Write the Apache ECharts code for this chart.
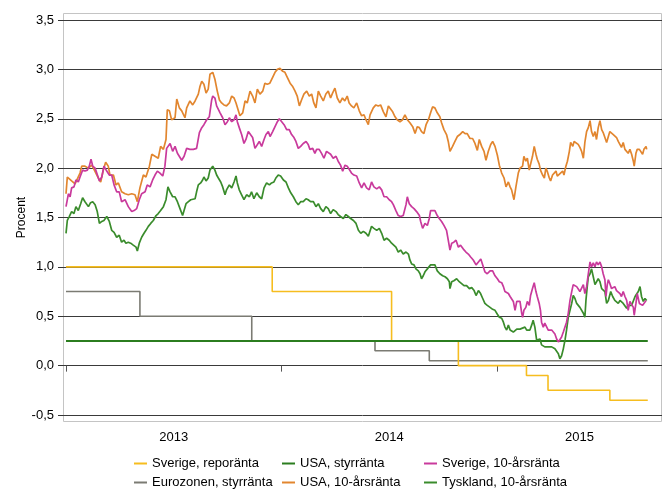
<!DOCTYPE html>
<html>
<head>
<meta charset="utf-8">
<script src="https://cdn.jsdelivr.net/npm/echarts@6/dist/echarts.min.js"></script>
<style>
html, body { margin: 0; padding: 0; background: #fff; }
#main { width: 667px; height: 490px; }
</style>
</head>
<body>
<div id="main"></div>
<script>
// time is given as decimal year (2013.5 = mid 2013)
var yearTicks = [2013, 2014, 2015];
var yearLabelAt = [2013.5, 2014.5, 2015.383];

// policy rates, value holds until next date
var repoDatum = [2013.0, 2013.957, 2014.511, 2014.821, 2015.137, 2015.237, 2015.524, 2015.70];
var repoRanta = [1.00, 0.75, 0.25, 0.00, -0.10, -0.25, -0.35, -0.35];
var ecbDatum = [2013.0, 2013.343, 2013.862, 2014.434, 2014.686, 2015.70];
var ecbRanta = [0.75, 0.50, 0.25, 0.15, 0.05, 0.05];
var fedDatum = [2013.0, 2015.70];
var fedRanta = [0.25, 0.25];

// 10-year yields [time, percent]
var usa10 = [[2013.000,1.74],[2013.006,1.91],[2013.015,1.90],[2013.026,1.87],[2013.042,1.84],[2013.049,1.83],[2013.065,1.95],[2013.073,2.02],[2013.088,2.02],[2013.104,2.00],[2013.119,2.03],[2013.127,2.00],[2013.135,2.02],[2013.150,1.90],[2013.161,1.86],[2013.173,1.98],[2013.184,2.06],[2013.196,2.02],[2013.204,1.93],[2013.220,1.93],[2013.232,1.83],[2013.243,1.85],[2013.258,1.76],[2013.274,1.74],[2013.289,1.73],[2013.305,1.74],[2013.320,1.73],[2013.331,1.66],[2013.343,1.80],[2013.359,1.93],[2013.371,1.91],[2013.387,2.02],[2013.398,2.14],[2013.413,2.12],[2013.428,2.10],[2013.439,2.22],[2013.452,2.19],[2013.464,2.29],[2013.470,2.59],[2013.480,2.58],[2013.490,2.49],[2013.506,2.51],[2013.514,2.70],[2013.526,2.61],[2013.537,2.58],[2013.552,2.51],[2013.560,2.61],[2013.575,2.68],[2013.588,2.64],[2013.599,2.68],[2013.614,2.75],[2013.622,2.83],[2013.630,2.88],[2013.640,2.85],[2013.650,2.76],[2013.660,2.80],
[2013.668,2.95],[2013.681,2.97],[2013.691,2.90],[2013.702,2.78],[2013.712,2.69],[2013.722,2.66],[2013.733,2.64],[2013.745,2.63],[2013.758,2.66],[2013.769,2.73],[2013.780,2.71],[2013.789,2.66],[2013.800,2.58],[2013.807,2.53],[2013.820,2.56],[2013.831,2.68],[2013.841,2.66],[2013.854,2.78],[2013.866,2.73],[2013.877,2.66],[2013.888,2.80],[2013.900,2.75],[2013.913,2.78],[2013.923,2.86],[2013.934,2.85],[2013.946,2.86],[2013.959,2.92],[2013.970,2.97],[2013.981,3.00],[2013.993,3.01],[2014.006,2.98],[2014.016,2.97],[2014.027,2.92],[2014.040,2.86],[2014.051,2.83],[2014.063,2.78],[2014.073,2.73],[2014.083,2.63],[2014.093,2.69],[2014.104,2.75],[2014.117,2.78],[2014.129,2.73],[2014.140,2.75],[2014.150,2.66],[2014.160,2.61],[2014.171,2.78],[2014.182,2.73],[2014.194,2.68],[2014.206,2.75],[2014.217,2.78],[2014.228,2.71],[2014.237,2.76],[2014.248,2.81],[2014.259,2.71],[2014.271,2.66],[2014.283,2.71],[2014.294,2.68],[2014.305,2.73],[2014.314,2.66],[2014.325,2.63],[2014.336,2.61],[2014.349,2.66],[2014.361,2.58],[2014.372,2.53],[2014.383,2.54],[2014.392,2.49],[2014.403,2.44],[2014.411,2.54],
[2014.426,2.61],[2014.438,2.64],[2014.449,2.63],[2014.460,2.64],[2014.473,2.57],[2014.485,2.52],[2014.496,2.63],[2014.503,2.64],[2014.516,2.57],[2014.527,2.52],[2014.537,2.49],[2014.550,2.47],[2014.562,2.49],[2014.573,2.54],[2014.584,2.49],[2014.596,2.46],[2014.609,2.42],[2014.620,2.35],[2014.630,2.42],[2014.640,2.41],[2014.650,2.37],[2014.661,2.35],[2014.671,2.44],[2014.682,2.49],[2014.692,2.56],[2014.701,2.62],[2014.712,2.61],[2014.723,2.56],[2014.735,2.52],[2014.743,2.46],[2014.754,2.39],[2014.766,2.34],[2014.774,2.27],[2014.782,2.17],[2014.794,2.22],[2014.805,2.27],[2014.816,2.32],[2014.828,2.34],[2014.841,2.37],[2014.852,2.35],[2014.862,2.35],[2014.875,2.30],[2014.887,2.30],[2014.898,2.25],[2014.909,2.18],[2014.918,2.29],[2014.929,2.22],[2014.940,2.17],[2014.949,2.08],[2014.960,2.17],[2014.971,2.24],[2014.980,2.27],[2014.991,2.22],[2015.002,2.13],[2015.011,2.03],[2015.022,1.95],[2015.033,1.90],[2015.042,1.81],[2015.053,1.86],[2015.061,1.81],[2015.068,1.78],[2015.079,1.68],[2015.088,1.81],[2015.099,1.95],[2015.107,2.00],
[2015.119,2.02],[2015.125,2.12],[2015.134,2.07],[2015.141,2.10],[2015.150,1.98],[2015.156,2.04],[2015.165,2.12],[2015.173,2.22],[2015.181,2.14],[2015.187,2.09],[2015.196,2.04],[2015.202,1.98],[2015.212,1.93],[2015.220,1.90],[2015.227,2.00],[2015.233,1.97],[2015.243,1.90],[2015.249,1.87],[2015.258,1.93],[2015.264,1.92],[2015.274,1.97],[2015.280,1.92],[2015.289,1.90],[2015.295,1.95],[2015.305,1.97],[2015.311,1.93],[2015.320,2.02],[2015.327,2.07],[2015.336,2.17],[2015.342,2.26],[2015.352,2.22],[2015.358,2.27],[2015.366,2.26],[2015.377,2.24],[2015.385,2.21],[2015.393,2.17],[2015.401,2.10],[2015.408,2.26],[2015.416,2.37],[2015.424,2.41],[2015.432,2.48],[2015.439,2.37],[2015.447,2.32],[2015.455,2.37],[2015.462,2.29],[2015.470,2.41],[2015.478,2.48],[2015.486,2.39],[2015.493,2.36],[2015.501,2.34],[2015.509,2.26],[2015.517,2.32],[2015.524,2.37],[2015.532,2.36],[2015.540,2.34],[2015.547,2.32],[2015.555,2.31],[2015.563,2.27],[2015.571,2.26],[2015.578,2.21],[2015.586,2.26],[2015.594,2.19],[2015.602,2.21],[2015.609,2.15],[2015.617,2.19],[2015.625,2.14],[2015.633,2.07],[2015.637,2.02],[2015.645,2.15],[2015.651,2.19],[2015.661,2.19],[2015.667,2.17],[2015.676,2.14],[2015.682,2.19],[2015.692,2.22],[2015.695,2.19]];

var sverige10 = [[2013.000,1.61],[2013.011,1.74],[2013.019,1.71],[2013.026,1.80],[2013.037,1.81],[2013.046,1.88],[2013.057,1.86],[2013.065,1.91],[2013.077,1.98],[2013.088,1.97],[2013.099,1.98],[2013.108,2.02],[2013.116,2.09],[2013.124,2.02],[2013.135,2.00],[2013.142,1.98],[2013.155,1.87],[2013.166,1.91],[2013.176,2.02],[2013.189,1.97],[2013.201,1.93],[2013.212,1.93],[2013.223,1.83],[2013.235,1.76],[2013.247,1.76],[2013.258,1.66],[2013.274,1.68],[2013.289,1.61],[2013.305,1.56],[2013.316,1.57],[2013.328,1.59],[2013.340,1.68],[2013.351,1.74],[2013.367,1.76],[2013.377,1.83],[2013.390,1.81],[2013.402,1.88],[2013.413,1.93],[2013.424,1.97],[2013.436,1.95],[2013.449,1.92],[2013.459,2.02],[2013.467,2.20],[2013.476,2.19],[2013.483,2.25],[2013.495,2.17],[2013.506,2.22],[2013.517,2.15],[2013.526,2.13],[2013.537,2.08],[2013.548,2.12],[2013.560,2.20],[2013.575,2.19],[2013.591,2.19],[2013.606,2.20],[2013.619,2.36],[2013.630,2.41],[2013.640,2.44],[2013.653,2.49],[2013.665,2.52],[2013.676,2.69],
[2013.681,2.73],[2013.691,2.71],[2013.699,2.63],[2013.707,2.64],[2013.715,2.56],[2013.727,2.51],[2013.738,2.44],[2013.749,2.47],[2013.758,2.51],[2013.769,2.47],[2013.780,2.49],[2013.789,2.54],[2013.795,2.47],[2013.804,2.41],[2013.815,2.34],[2013.826,2.25],[2013.835,2.29],[2013.846,2.37],[2013.854,2.39],[2013.866,2.31],[2013.877,2.20],[2013.885,2.20],[2013.897,2.27],[2013.908,2.22],[2013.919,2.29],[2013.928,2.34],[2013.939,2.37],[2013.947,2.32],[2013.959,2.37],[2013.970,2.42],[2013.981,2.47],[2013.990,2.50],[2014.001,2.47],[2014.012,2.44],[2014.024,2.39],[2014.036,2.39],[2014.047,2.34],[2014.058,2.31],[2014.067,2.27],[2014.078,2.20],[2014.089,2.22],[2014.101,2.25],[2014.114,2.27],[2014.124,2.24],[2014.132,2.19],[2014.145,2.20],[2014.155,2.15],[2014.163,2.19],[2014.175,2.19],[2014.186,2.15],[2014.197,2.10],[2014.209,2.17],[2014.217,2.19],[2014.228,2.14],[2014.240,2.10],[2014.253,2.12],[2014.263,2.07],[2014.274,2.03],[2014.284,1.97],[2014.295,2.03],[2014.305,2.02],[2014.314,2.00],[2014.325,1.95],[2014.336,1.93],[2014.349,1.92],[2014.361,1.85],[2014.372,1.80],[2014.383,1.85],[2014.395,1.80],[2014.407,1.78],
[2014.418,1.86],[2014.429,1.81],[2014.442,1.79],[2014.454,1.81],[2014.465,1.78],[2014.476,1.71],[2014.488,1.71],[2014.500,1.68],[2014.511,1.66],[2014.519,1.63],[2014.531,1.57],[2014.542,1.52],[2014.553,1.51],[2014.565,1.52],[2014.578,1.63],[2014.584,1.71],[2014.593,1.64],[2014.604,1.61],[2014.615,1.59],[2014.627,1.56],[2014.640,1.52],[2014.646,1.46],[2014.655,1.39],[2014.666,1.44],[2014.677,1.42],[2014.686,1.49],[2014.692,1.57],[2014.701,1.59],[2014.712,1.57],[2014.723,1.52],[2014.732,1.49],[2014.743,1.46],[2014.754,1.42],[2014.766,1.37],[2014.774,1.27],[2014.782,1.17],[2014.790,1.24],[2014.800,1.25],[2014.810,1.27],[2014.821,1.20],[2014.831,1.22],[2014.844,1.18],[2014.856,1.15],[2014.867,1.13],[2014.878,1.10],[2014.890,1.07],[2014.903,1.02],[2014.914,1.05],[2014.925,1.08],[2014.934,1.02],[2014.944,0.95],[2014.955,0.93],[2014.968,0.96],[2014.980,0.96],[2014.991,0.91],[2015.002,0.88],[2015.011,0.85],
[2015.022,0.84],[2015.030,0.80],[2015.037,0.75],[2015.045,0.76],[2015.053,0.73],[2015.061,0.70],[2015.068,0.68],[2015.076,0.65],[2015.084,0.56],[2015.092,0.65],[2015.099,0.63],[2015.107,0.65],[2015.115,0.53],[2015.119,0.49],[2015.125,0.56],[2015.134,0.59],[2015.141,0.65],[2015.150,0.61],[2015.156,0.71],[2015.165,0.78],[2015.173,0.84],[2015.181,0.75],[2015.187,0.70],[2015.196,0.63],[2015.202,0.56],[2015.207,0.44],[2015.215,0.39],[2015.222,0.43],[2015.230,0.41],[2015.238,0.36],[2015.246,0.37],[2015.254,0.36],[2015.261,0.34],[2015.269,0.32],[2015.277,0.27],[2015.285,0.24],[2015.292,0.26],[2015.300,0.29],[2015.308,0.34],[2015.316,0.32],[2015.323,0.44],[2015.331,0.53],[2015.339,0.66],[2015.347,0.75],[2015.354,0.82],[2015.362,0.83],[2015.370,0.80],[2015.378,0.80],[2015.385,0.75],[2015.393,0.73],[2015.401,0.82],[2015.408,0.73],[2015.416,0.80],[2015.424,0.93],[2015.432,1.05],[2015.439,1.00],[2015.447,1.04],[2015.455,1.00],[2015.462,1.05],[2015.470,1.02],[2015.478,1.05],[2015.486,1.00],[2015.493,0.93],[2015.501,0.87],[2015.506,0.70],[2015.512,0.82],[2015.517,0.87],[2015.524,0.83],[2015.532,0.78],[2015.540,0.76],[2015.547,0.80],[2015.555,0.76],[2015.563,0.75],[2015.571,0.73],[2015.578,0.70],[2015.586,0.75],[2015.594,0.70],[2015.602,0.66],[2015.609,0.56],[2015.617,0.65],[2015.625,0.66],[2015.633,0.59],[2015.637,0.51],[2015.645,0.63],[2015.651,0.73],[2015.661,0.63],[2015.667,0.65],[2015.676,0.61],[2015.682,0.63],[2015.692,0.66]];

var tyskland10 = [[2013.000,1.34],[2013.006,1.47],[2013.015,1.51],[2013.026,1.56],[2013.037,1.54],[2013.046,1.61],[2013.057,1.57],[2013.068,1.64],[2013.077,1.70],[2013.088,1.66],[2013.104,1.61],[2013.114,1.65],[2013.124,1.66],[2013.135,1.63],[2013.145,1.56],[2013.155,1.44],[2013.166,1.46],[2013.176,1.47],[2013.189,1.51],[2013.201,1.46],[2013.212,1.37],[2013.223,1.35],[2013.235,1.30],[2013.247,1.32],[2013.258,1.25],[2013.269,1.27],[2013.278,1.24],[2013.289,1.25],[2013.300,1.24],[2013.312,1.22],[2013.325,1.20],[2013.331,1.16],[2013.340,1.24],[2013.351,1.30],[2013.362,1.34],[2013.371,1.37],[2013.382,1.41],[2013.393,1.44],[2013.405,1.47],[2013.418,1.52],[2013.428,1.54],[2013.439,1.57],[2013.452,1.61],[2013.464,1.68],[2013.473,1.81],[2013.483,1.76],[2013.495,1.71],[2013.506,1.71],[2013.517,1.66],[2013.529,1.59],[2013.541,1.52],[2013.548,1.51],[2013.557,1.64],[2013.568,1.66],[2013.579,1.68],[2013.588,1.68],[2013.599,1.69],[2013.606,1.76],[2013.614,1.83],[2013.625,1.85],[2013.634,1.88],[2013.640,1.91],[2013.650,1.87],[2013.660,1.90],
[2013.668,1.98],[2013.681,2.02],[2013.691,1.98],[2013.699,1.93],[2013.707,1.90],[2013.718,1.86],[2013.727,1.81],[2013.738,1.73],[2013.745,1.78],[2013.758,1.83],[2013.769,1.80],[2013.780,1.86],[2013.789,1.92],[2013.795,1.85],[2013.804,1.78],[2013.815,1.73],[2013.826,1.68],[2013.838,1.73],[2013.851,1.71],[2013.861,1.76],[2013.872,1.69],[2013.885,1.75],[2013.897,1.71],[2013.908,1.69],[2013.919,1.80],[2013.931,1.85],[2013.944,1.83],[2013.954,1.85],[2013.965,1.86],[2013.974,1.90],[2013.985,1.93],[2013.996,1.92],[2014.009,1.88],[2014.021,1.86],[2014.032,1.80],[2014.043,1.75],[2014.055,1.71],[2014.067,1.66],[2014.078,1.63],[2014.089,1.66],[2014.101,1.66],[2014.114,1.69],[2014.124,1.68],[2014.135,1.66],[2014.148,1.66],[2014.160,1.61],[2014.171,1.64],[2014.182,1.59],[2014.194,1.56],[2014.206,1.61],[2014.217,1.59],[2014.228,1.54],[2014.240,1.58],[2014.253,1.56],[2014.263,1.53],[2014.274,1.51],[2014.287,1.49],[2014.299,1.53],[2014.310,1.51],[2014.321,1.49],[2014.334,1.47],[2014.346,1.44],[2014.357,1.37],[2014.368,1.34],[2014.380,1.36],[2014.392,1.34],[2014.403,1.31],
[2014.418,1.41],[2014.429,1.39],[2014.442,1.37],[2014.454,1.39],[2014.465,1.34],[2014.476,1.27],[2014.488,1.29],[2014.500,1.27],[2014.511,1.24],[2014.519,1.22],[2014.531,1.20],[2014.542,1.15],[2014.553,1.17],[2014.565,1.13],[2014.578,1.15],[2014.589,1.13],[2014.596,1.07],[2014.604,1.03],[2014.615,1.02],[2014.624,0.98],[2014.635,0.96],[2014.643,0.93],[2014.650,0.88],[2014.658,0.91],[2014.666,0.95],[2014.677,0.98],[2014.686,0.96],[2014.692,1.02],[2014.701,1.03],[2014.712,1.02],[2014.723,0.96],[2014.735,0.93],[2014.748,0.91],[2014.759,0.90],[2014.770,0.88],[2014.779,0.85],[2014.782,0.78],[2014.790,0.85],[2014.800,0.86],[2014.813,0.88],[2014.825,0.85],[2014.836,0.83],[2014.847,0.81],[2014.859,0.81],[2014.872,0.78],[2014.883,0.79],[2014.894,0.76],[2014.903,0.71],[2014.914,0.76],[2014.924,0.73],[2014.934,0.68],[2014.944,0.63],[2014.955,0.61],[2014.968,0.59],[2014.980,0.57],[2014.991,0.56],[2015.002,0.52],[2015.011,0.49],
[2015.022,0.48],[2015.030,0.44],[2015.037,0.39],[2015.045,0.36],[2015.053,0.41],[2015.061,0.36],[2015.076,0.34],[2015.084,0.32],[2015.092,0.37],[2015.099,0.36],[2015.107,0.37],[2015.115,0.36],[2015.130,0.39],[2015.138,0.36],[2015.145,0.37],[2015.153,0.36],[2015.161,0.41],[2015.168,0.46],[2015.176,0.39],[2015.184,0.26],[2015.192,0.26],[2015.200,0.27],[2015.207,0.21],[2015.215,0.22],[2015.222,0.19],[2015.230,0.21],[2015.238,0.19],[2015.246,0.17],[2015.254,0.19],[2015.261,0.17],[2015.269,0.17],[2015.277,0.15],[2015.285,0.12],[2015.292,0.07],[2015.300,0.10],[2015.308,0.17],[2015.316,0.26],[2015.323,0.36],[2015.331,0.49],[2015.339,0.56],[2015.347,0.63],[2015.354,0.71],[2015.362,0.68],[2015.370,0.63],[2015.378,0.61],[2015.385,0.59],[2015.393,0.58],[2015.401,0.53],[2015.408,0.49],[2015.413,0.66],[2015.419,0.80],[2015.424,0.90],[2015.432,0.93],[2015.439,0.98],[2015.447,0.90],[2015.455,0.82],[2015.462,0.80],[2015.470,0.88],[2015.478,0.85],[2015.486,0.78],[2015.493,0.80],[2015.501,0.75],[2015.509,0.63],[2015.517,0.66],[2015.528,0.75],[2015.537,0.70],[2015.547,0.66],[2015.555,0.65],[2015.563,0.63],[2015.571,0.66],[2015.578,0.68],[2015.586,0.63],[2015.594,0.61],[2015.602,0.58],[2015.609,0.61],[2015.617,0.59],[2015.625,0.61],[2015.633,0.59],[2015.641,0.70],[2015.648,0.71],[2015.656,0.75],[2015.664,0.80],[2015.671,0.70],[2015.679,0.65],[2015.687,0.68],[2015.695,0.66]];

var FONT = '"Liberation Sans", Arial, sans-serif';

function zip(a, b) {
	var out = [];
	for (var i = 0; i < a.length; i++) {
		out.push([a[i], b[i]]);
	}
	return out;
}

function lineSeries(name, data, color, width, step) {
	return {
		name : name,
		type : 'line',
		data : data,
		step : step || false,
		showSymbol : false,
		symbol : 'none',
		silent : true,
		color : color,
		lineStyle : { width : width, color : color }
	};
}

function legendAt(name, left, top) {
	return {
		data : [name],
		left : left,
		top : top,
		padding : 0,
		icon : 'rect',
		itemWidth : 13,
		itemHeight : 2,
		selectedMode : false,
		textStyle : { fontSize : 13, color : '#000', fontFamily : FONT }
	};
}

var myChart = echarts.init(document.getElementById('main'));
var option = {
	animation : false,
	backgroundColor : '#fff',
	textStyle : { fontFamily : FONT },
	grid : { left : 63, right : 5, top : 20, bottom : 75 },
	graphic : [{
		type : 'rect',
		shape : { x : 63.5, y : 13.5, width : 598, height : 408 },
		style : { fill : 'none', stroke : '#c4c4c4', lineWidth : 1 },
		z : -1
	}],
	xAxis : {
		type : 'value',
		min : 2012.986,
		max : 2015.766,
		offset : 7,
		axisLine : { show : false },
		axisTick : { show : true, customValues : yearTicks, length : 6, lineStyle : { color : '#555' } },
		axisLabel : {
			customValues : yearLabelAt,
			formatter : function(v) { return String(Math.floor(v)); },
			margin : 9,
			fontSize : 13,
			color : '#000',
			fontFamily : FONT
		},
		splitLine : { show : false }
	},
	yAxis : {
		type : 'value',
		min : -0.5,
		max : 3.5,
		interval : 0.5,
		name : 'Procent',
		nameLocation : 'middle',
		nameGap : 35,
		nameMoveOverlap : false,
		nameTextStyle : { fontSize : 12, color : '#000', fontFamily : FONT },
		axisLine : { show : false },
		axisTick : { show : true, length : 5, lineStyle : { color : '#333' } },
		axisLabel : {
			formatter : function(v) { return v.toFixed(1).replace('.', ','); },
			margin : 9,
			fontSize : 13,
			color : '#000',
			fontFamily : FONT
		},
		splitLine : { lineStyle : { color : '#3a3a3a', width : 1 } }
	},
	legend : [
		legendAt('Sverige, reporänta', 134, 457),
		legendAt('USA, styrränta', 282, 457),
		legendAt('Sverige, 10-årsränta', 424, 457),
		legendAt('Eurozonen, styrränta', 134, 476),
		legendAt('USA, 10-årsränta', 282, 476),
		legendAt('Tyskland, 10-årsränta', 424, 476)
	],
	series : [
		lineSeries('Eurozonen, styrränta', zip(ecbDatum, ecbRanta), '#7b7b73', 1.6, 'end'),
		lineSeries('Sverige, reporänta', zip(repoDatum, repoRanta), '#f6bd1f', 1.6, 'end'),
		lineSeries('USA, styrränta', zip(fedDatum, fedRanta), '#2b7d1f', 2, 'end'),
		lineSeries('Tyskland, 10-årsränta', tyskland10, '#3a8c2c', 1.7),
		lineSeries('USA, 10-årsränta', usa10, '#e2862f', 1.7),
		lineSeries('Sverige, 10-årsränta', sverige10, '#c93a9c', 1.7)
	]
};
myChart.setOption(option);
</script>
</body>
</html>
